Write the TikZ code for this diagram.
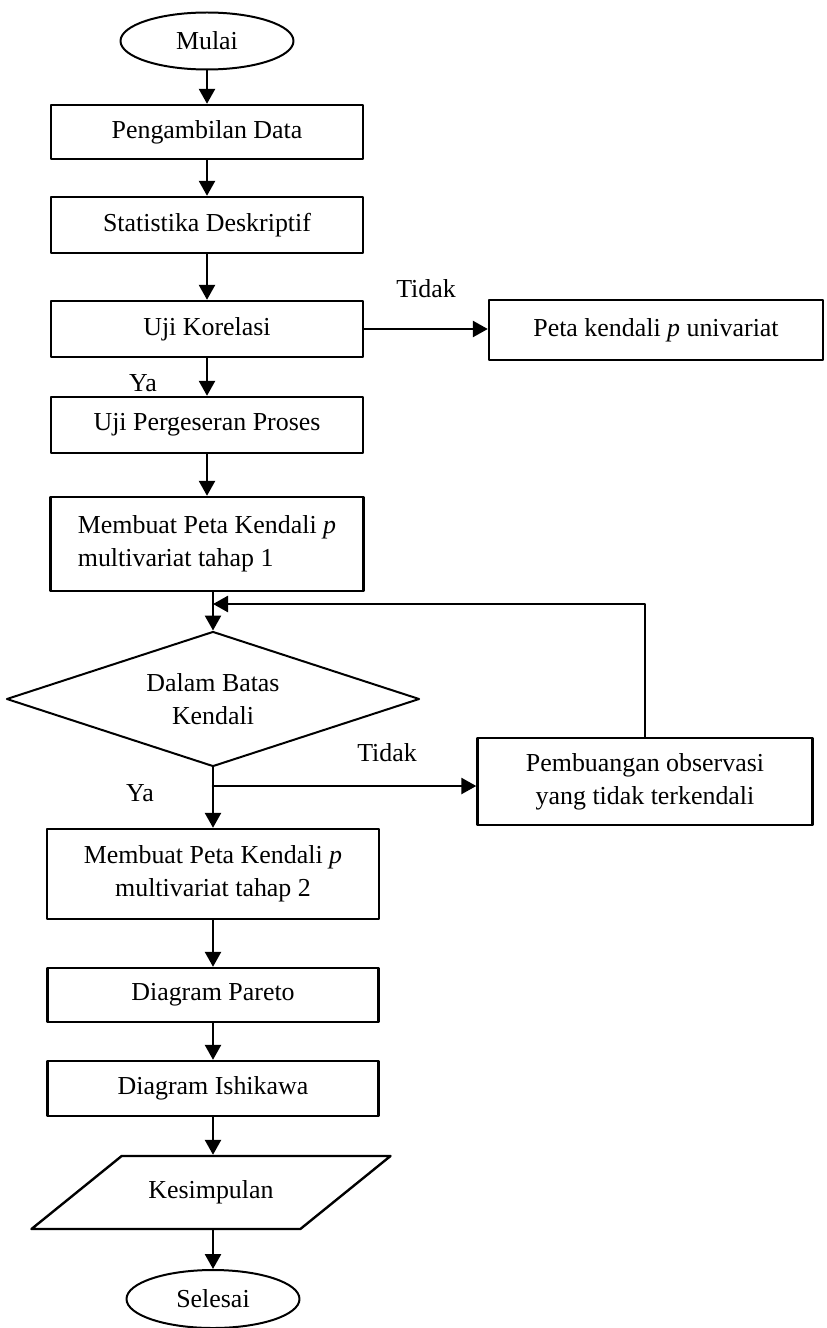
\documentclass[tikz,border=0pt]{standalone}
\usepackage{fontspec}
\setmainfont{Liberation Serif}
\usetikzlibrary{arrows.meta,shapes.geometric}

\begin{document}
\begin{tikzpicture}[line cap=round,line join=round,x=0.5bp,y=-0.5bp,
  font=\fontsize{13}{16.5}\selectfont,
  kotak/.style={draw,line width=1.2pt,rectangle,inner sep=0pt,align=center},
  terminal/.style={draw,line width=1.pt,ellipse,inner sep=0pt,minimum width=86.5bp,minimum height=28.5bp},
  keputusan/.style={draw,line width=1.pt,diamond,shape aspect=3,inner sep=0pt,align=center},
  masukan/.style={draw,line width=1.2pt,trapezium,trapezium left angle=39,trapezium right angle=141,
    trapezium stretches body=true,inner xsep=0pt,inner ysep=12.25bp,text height=9bp,text depth=3bp},
  panah/.style={-{Triangle[length=7.5bp,width=8bp]},line width=1.3pt}]

\useasboundingbox (0,0) rectangle (826,1328);

% kolom utama
\node [terminal] (mulai) at (207,41) {Mulai};
\node [kotak, minimum width=156bp, minimum height=27bp] (ambil) at (207,132) {Pengambilan Data};
\node [kotak, minimum width=156bp, minimum height=28bp] (deskriptif) at (207,225) {Statistika Deskriptif};
\node [kotak, minimum width=156bp, minimum height=28bp] (korelasi) at (207,329) {Uji Korelasi};
\node [kotak, minimum width=167bp, minimum height=30bp] (univariat) at (656,330) {Peta kendali \textit{p} univariat};
\node [kotak, minimum width=156bp, minimum height=28bp] (geser) at (207,425) {Uji Pergeseran Proses};
\node [kotak, align=left, minimum width=156.5bp, minimum height=47bp] (tahapsatu) at (207,544)
  {Membuat Peta Kendali \textit{p}\\multivariat tahap 1};
\node [keputusan, minimum width=206.5bp, minimum height=67.5bp] (batas) at (213,699) {Dalam Batas\\Kendali};
\node [kotak, minimum width=167.5bp, minimum height=43.5bp] (buang) at (645,781.5)
  {Pembuangan observasi\\yang tidak terkendali};
\node [kotak, minimum width=166bp, minimum height=45bp] (tahapdua) at (213,874)
  {Membuat Peta Kendali \textit{p}\\multivariat tahap 2};
\node [kotak, minimum width=165.5bp, minimum height=27bp] (pareto) at (213,995) {Diagram Pareto};
\node [kotak, minimum width=165.5bp, minimum height=27.5bp] (ishikawa) at (213,1088.5) {Diagram Ishikawa};
\node [masukan, minimum width=179.5bp] (simpul) at (211,1192.5) {Kesimpulan};
\node [terminal, minimum height=29bp] (selesai) at (213,1299) {Selesai};

% keterangan cabang
\node (tidaksatu) at (426,289) {Tidak};
\node (yasatu) at (143,383) {Ya};
\node (tidakdua) at (387,753) {Tidak};
\node (yadua) at (140,793) {Ya};

\coordinate (balik) at (213,604);
\coordinate (cabang) at (213,786);

\draw [panah] (mulai.south) -- (ambil.north);
\draw [panah] (ambil.south) -- (deskriptif.north);
\draw [panah] (deskriptif.south) -- (korelasi.north);
\draw [panah] (korelasi.east) -- (univariat.west |- korelasi.east);
\draw [panah] (korelasi.south) -- (geser.north);
\draw [panah] (geser.south) -- (tahapsatu.north);
\draw [panah] (batas.north |- tahapsatu.south) -- (batas.north);
\draw [panah] (buang.north) |- (balik);
\draw [panah] (batas.south) -- (tahapdua.north);
\draw [panah] (cabang) -- (cabang -| buang.west);
\draw [panah] (tahapdua.south) -- (pareto.north);
\draw [panah] (pareto.south) -- (ishikawa.north);
\draw [panah] (ishikawa.south) -- (simpul.north -| ishikawa.south);
\draw [panah] (simpul.south -| selesai.north) -- (selesai.north);
\end{tikzpicture}
\end{document}
